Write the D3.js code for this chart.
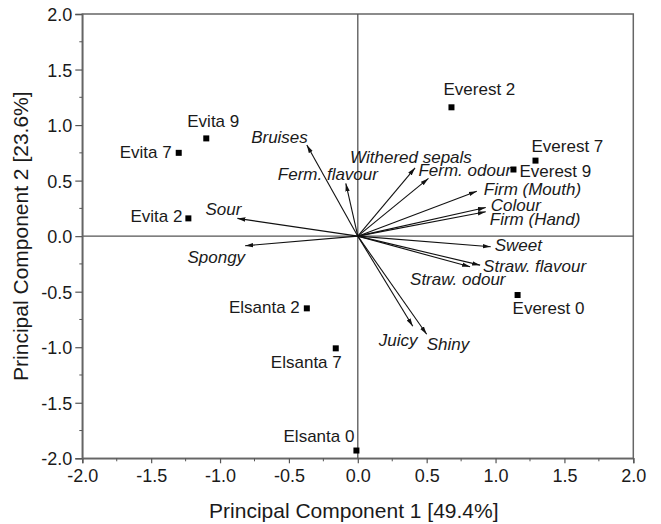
<!DOCTYPE html>
<html>
<head>
<meta charset="utf-8">
<script src="https://cdn.jsdelivr.net/npm/d3@7"></script>
<style>
  body { margin: 0; background: #fff; }
  text { font-family: "Liberation Sans", Arial, sans-serif; fill: #1a1a1a; }
</style>
</head>
<body>
<div id="chart"></div>
<script>
// sample scores
const sampleNames = ["Evita 9", "Evita 7", "Evita 2", "Everest 2", "Everest 7", "Everest 9",
                     "Everest 0", "Elsanta 2", "Elsanta 7", "Elsanta 0"];
const sampleX = [-1.10, -1.30, -1.23, 0.68, 1.29, 1.13, 1.16, -0.37, -0.16, -0.01];
const sampleY = [0.88, 0.75, 0.16, 1.16, 0.68, 0.60, -0.53, -0.65, -1.01, -1.93];

// attribute loadings
const attrNames = ["Bruises", "Ferm. flavour", "Sour", "Spongy", "Withered sepals", "Ferm. odour",
                   "Firm (Mouth)", "Colour", "Firm (Hand)", "Sweet", "Straw. flavour",
                   "Straw. odour", "Juicy", "Shiny"];
const attrX = [-0.37, -0.087, -0.874, -0.818, 0.416, 0.513, 0.864, 0.929, 0.929, 0.965, 0.888, 0.815, 0.399, 0.50];
const attrY = [0.82, 0.475, 0.16, -0.087, 0.615, 0.52, 0.405, 0.258, 0.219, -0.096, -0.261, -0.276, -0.811, -0.883];

const tickValues = [-2.0, -1.5, -1.0, -0.5, 0.0, 0.5, 1.0, 1.5, 2.0];
const xTitle = "Principal Component 1 [49.4%]";
const yTitle = "Principal Component 2 [23.6%]";

// label placement (anchor, dx, dy in px)
const sampleLabelPos = {
  "Evita 9": ["start", -19, -11], "Evita 7": ["end", -7, 5.5], "Evita 2": ["end", -6, 4],
  "Everest 2": ["start", -8, -12], "Everest 7": ["start", -4, -9], "Everest 9": ["start", 6, 7.5],
  "Everest 0": ["start", -5, 19], "Elsanta 2": ["end", -7, 5], "Elsanta 7": ["end", 6, 20],
  "Elsanta 0": ["end", -2, -9]
};
const attrLabelPos = {
  "Bruises": ["end", 1, -2], "Ferm. flavour": ["start", -68, -3], "Sour": ["end", 4, -3],
  "Spongy": ["end", 0, 17], "Withered sepals": ["start", -65, -5], "Ferm. odour": ["start", -10, -2],
  "Firm (Mouth)": ["start", 7, 4], "Colour": ["start", 5, 4], "Firm (Hand)": ["start", 4, 13],
  "Sweet": ["start", 4, 4], "Straw. flavour": ["start", 3, 7], "Straw. odour": ["start", -60, 18],
  "Juicy": ["start", -34, 20], "Shiny": ["start", 0, 16]
};

const width = 661, height = 524;
const svg = d3.select("#chart").append("svg")
    .attr("width", width)
    .attr("height", height);

const x = d3.scaleLinear().domain([-2, 2]).range([82.3, 633.3]);
const y = d3.scaleLinear().domain([-2, 2]).range([458.3, 14]);

const axisColor = "#555";
// plain hyphen as minus, like the original figure
const fmt = d => d.toFixed(1);

// arrow head
svg.append("defs").append("marker")
    .attr("id", "head")
    .attr("markerUnits", "userSpaceOnUse")
    .attr("viewBox", "0 -3 8 6")
    .attr("markerWidth", 8)
    .attr("markerHeight", 6)
    .attr("refX", 8)
    .attr("refY", 0)
    .attr("orient", "auto")
  .append("path")
    .attr("d", "M0,-2.2L8,0L0,2.2Z")
    .attr("fill", "#111");

// frame
svg.append("rect")
    .attr("x", x(-2)).attr("y", y(2))
    .attr("width", x(2) - x(-2)).attr("height", y(-2) - y(2))
    .attr("fill", "none")
    .attr("stroke", "#666")
    .attr("stroke-width", 1.5);

// zero lines
svg.append("line")
    .attr("x1", x(-2)).attr("x2", x(2))
    .attr("y1", y(0)).attr("y2", y(0))
    .attr("stroke", axisColor).attr("stroke-width", 1.3);
svg.append("line")
    .attr("x1", x(0)).attr("x2", x(0))
    .attr("y1", y(-2)).attr("y2", y(2))
    .attr("stroke", axisColor).attr("stroke-width", 1.3);

const minorTicks = d3.range(-2, 2.001, 0.25).filter(v => Math.abs(v * 2 - Math.round(v * 2)) > 1e-6);

// x axis
const xAxis = svg.append("g")
    .attr("transform", `translate(0,${y(-2)})`)
    .call(d3.axisBottom(x).tickValues(tickValues).tickFormat(fmt).tickSize(5).tickPadding(6));
xAxis.append("g").selectAll("line")
    .data(minorTicks)
    .join("line")
    .attr("x1", d => x(d)).attr("x2", d => x(d))
    .attr("y1", 0).attr("y2", 3)
    .attr("stroke", axisColor);

// y axis
const yAxis = svg.append("g")
    .attr("transform", `translate(${x(-2)},0)`)
    .call(d3.axisLeft(y).tickValues(tickValues).tickFormat(fmt).tickSize(7).tickPadding(3));
yAxis.append("g").selectAll("line")
    .data(minorTicks)
    .join("line")
    .attr("y1", d => y(d)).attr("y2", d => y(d))
    .attr("x1", 0).attr("x2", -3)
    .attr("stroke", axisColor);

svg.selectAll(".domain").attr("stroke", "#666").attr("stroke-width", 1.5);
svg.selectAll(".tick line").attr("stroke", axisColor).attr("stroke-width", 1.2);
svg.selectAll(".tick text")
    .style("font-size", "18px")
    .style("font-family", "'Liberation Sans', Arial, sans-serif")
    .attr("fill", "#1a1a1a");
yAxis.selectAll(".tick text").attr("dy", "0.36em");

// axis titles
svg.append("text")
    .attr("x", (x(-2) + x(2)) / 2 - 4)
    .attr("y", 518)
    .attr("text-anchor", "middle")
    .style("font-size", "21px")
    .text(xTitle);

svg.append("text")
    .attr("transform", `translate(28,${y(0)}) rotate(-90)`)
    .attr("text-anchor", "middle")
    .style("font-size", "21px")
    .text(yTitle);

// loading arrows
const attrs = attrNames.map((name, i) => ({ name, x: attrX[i], y: attrY[i] }));

svg.append("g")
    .selectAll("line")
    .data(attrs)
    .join("line")
    .attr("x1", x(0)).attr("y1", y(0))
    .attr("x2", d => x(d.x)).attr("y2", d => y(d.y))
    .attr("stroke", "#111")
    .attr("stroke-width", 1.1)
    .attr("marker-end", "url(#head)");

svg.append("g")
    .selectAll("text")
    .data(attrs)
    .join("text")
    .attr("x", d => x(d.x) + attrLabelPos[d.name][1])
    .attr("y", d => y(d.y) + attrLabelPos[d.name][2])
    .attr("text-anchor", d => attrLabelPos[d.name][0])
    .style("font-size", "17px")
    .style("font-style", "italic")
    .text(d => d.name);

// sample points
const samples = sampleNames.map((name, i) => ({ name, x: sampleX[i], y: sampleY[i] }));

svg.append("g")
    .selectAll("rect")
    .data(samples)
    .join("rect")
    .attr("x", d => x(d.x) - 3)
    .attr("y", d => y(d.y) - 3)
    .attr("width", 6)
    .attr("height", 6)
    .attr("fill", "#000");

svg.append("g")
    .selectAll("text")
    .data(samples)
    .join("text")
    .attr("x", d => x(d.x) + sampleLabelPos[d.name][1])
    .attr("y", d => y(d.y) + sampleLabelPos[d.name][2])
    .attr("text-anchor", d => sampleLabelPos[d.name][0])
    .style("font-size", "17px")
    .text(d => d.name);
</script>
</body>
</html>
